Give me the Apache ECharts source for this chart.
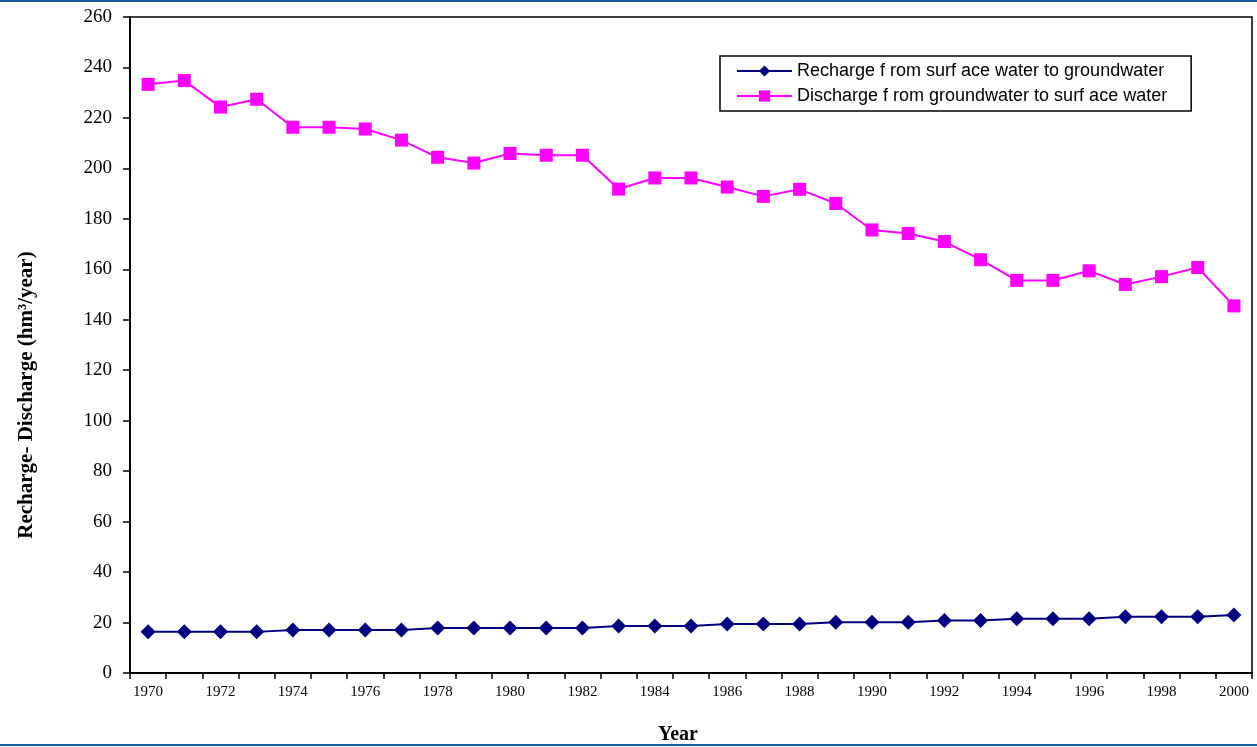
<!DOCTYPE html>
<html>
<head>
<meta charset="utf-8">
<script src="https://cdn.jsdelivr.net/npm/echarts@6/dist/echarts.min.js"></script>
<style>
  html, body { margin: 0; padding: 0; background: #fff; }
  #chart { width: 1257px; height: 747px; }
</style>
</head>
<body>
<div id="chart"></div>
<script>
var years = [];
for (var y = 1970; y <= 2000; y++) years.push(String(y));

var recharge = [16.3, 16.3, 16.3, 16.3, 17.0, 17.0, 17.0, 17.0, 17.8, 17.8, 17.8, 17.8, 17.8,
    18.6, 18.6, 18.6, 19.4, 19.4, 19.4, 20.1, 20.1, 20.1, 20.8, 20.8, 21.5, 21.5, 21.5,
    22.3, 22.3, 22.3, 23.0];

var discharge = [233.3, 234.8, 224.3, 227.4, 216.3, 216.3, 215.6, 211.2, 204.4, 202.1, 205.9,
    205.2, 205.2, 191.8, 196.2, 196.2, 192.6, 188.9, 191.7, 186.1, 175.6, 174.2, 171.0, 163.8,
    155.6, 155.6, 159.4, 154.0, 157.1, 160.7, 145.5];

// legend text as printed in the source figure
var seriesNames = ['Recharge f rom surf ace water to groundwater', 'Discharge f rom groundwater to surf ace water'];

var chart = echarts.init(document.getElementById('chart'));
var option = {
    animation: false,
    backgroundColor: '#fff',
    grid: {
        left: 130,
        right: 5,
        top: 17,
        bottom: 74,
        outerBoundsMode: 'none',
        containLabel: false,
        show: true,
        borderColor: '#000',
        borderWidth: 1.5
    },
    legend: {
        orient: 'vertical',
        left: 720,
        top: 56,
        padding: [6, 24, 6, 16],
        itemGap: 7,
        itemWidth: 55,
        itemHeight: 14,
        borderColor: '#000',
        borderWidth: 1.5,
        borderRadius: 0,
        textStyle: { fontFamily: 'Liberation Sans', fontSize: 18, color: '#000' },
        data: seriesNames
    },
    xAxis: {
        type: 'category',
        data: years,
        boundaryGap: true,
        name: 'Year',
        nameLocation: 'middle',
        nameGap: 52,
        nameTextStyle: { fontFamily: 'Liberation Serif', fontWeight: 'bold', fontSize: 20, color: '#000', padding: [0, 26, 0, 0] },
        axisLine: { lineStyle: { color: '#000', width: 2 } },
        axisTick: { show: true, interval: 0, length: 6, lineStyle: { color: '#000', width: 1.5 } },
        axisLabel: { interval: 1, margin: 12, fontFamily: 'Liberation Serif', fontSize: 15, color: '#000' },
        splitLine: { show: false }
    },
    yAxis: {
        type: 'value',
        min: 0,
        max: 260,
        interval: 20,
        name: 'Recharge- Discharge (hm³/year)',
        nameLocation: 'middle',
        nameGap: 93,
        nameTextStyle: { fontFamily: 'Liberation Serif', fontWeight: 'bold', fontSize: 21, color: '#000', padding: [0, 100, 0, 0] },
        axisLine: { show: true, lineStyle: { color: '#000', width: 2 } },
        axisTick: { show: true, length: 7, lineStyle: { color: '#000', width: 1.5 } },
        axisLabel: { margin: 18, fontFamily: 'Liberation Serif', fontSize: 19, color: '#000' },
        splitLine: { show: false }
    },
    graphic: [
        { type: 'rect', shape: { x: 0, y: 0, width: 1257, height: 2 }, style: { fill: '#1f5f99' } },
        { type: 'rect', shape: { x: 0, y: 744, width: 1257, height: 2 }, style: { fill: '#1f5f99' } }
    ],
    series: [{
        name: seriesNames[0],
        type: 'line',
        data: recharge,
        symbol: 'diamond',
        symbolSize: 15,
        itemStyle: { color: '#000080' },
        lineStyle: { color: '#000080', width: 2 }
    }, {
        name: seriesNames[1],
        type: 'line',
        data: discharge,
        symbol: 'rect',
        symbolSize: 13,
        itemStyle: { color: '#ff00ff' },
        lineStyle: { color: '#ff00ff', width: 2 }
    }]
};
chart.setOption(option);
</script>
</body>
</html>
